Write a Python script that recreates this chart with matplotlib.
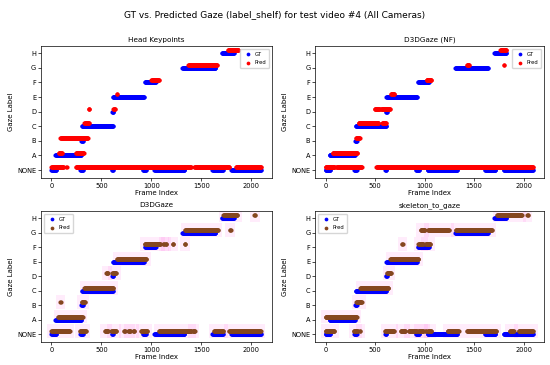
import numpy as np
import matplotlib
matplotlib.use("Agg")
import matplotlib.pyplot as plt
from matplotlib.patches import Rectangle

LABELS = ["NONE", "A", "B", "C", "D", "E", "F", "G", "H"]
X_TICKS = [0, 500, 1000, 1500, 2000]

# Runs of frames (start, end, label)
GT_SEGS = [
    (0, 50, "NONE"), (40, 300, "A"), (290, 315, "NONE"), (300, 315, "B"),
    (305, 615, "C"), (605, 615, "NONE"), (610, 620, "D"), (615, 925, "E"),
    (915, 945, "NONE"), (935, 1045, "F"), (1030, 1330, "NONE"),
    (1310, 1640, "G"), (1610, 1715, "NONE"), (1705, 1825, "H"),
    (1800, 2095, "NONE"),
]

HK_PRED = [
    (0, 120, "NONE"), (150, 155, "NONE"), (72, 105, "A"), (90, 365, "B"),
    (245, 325, "A"), (245, 1395, "NONE"), (330, 375, "C"), (372, 380, "D"),
    (620, 635, "D"), (655, 660, "E"), (1000, 1075, "F"), (1370, 1655, "G"),
    (1430, 1780, "NONE"), (1765, 1870, "H"), (1845, 2095, "NONE"),
]

NF_PRED = [
    (0, 90, "NONE"), (110, 365, "NONE"), (72, 323, "A"), (307, 343, "B"),
    (333, 536, "C"), (572, 611, "C"), (497, 546, "D"), (562, 650, "D"),
    (513, 2095, "NONE"), (660, 693, "E"), (1020, 1068, "F"),
    (1428, 1451, "G"), (1797, 1800, "G"), (1765, 1827, "H"),
]

D3D_PRED = [
    (0, 185, "NONE"), (285, 345, "NONE"), (535, 565, "NONE"), (600, 650, "NONE"),
    (725, 735, "NONE"), (770, 790, "NONE"), (820, 830, "NONE"),
    (895, 960, "NONE"), (1075, 1400, "NONE"), (1415, 1435, "NONE"),
    (1625, 1720, "NONE"), (1775, 2095, "NONE"),
    (66, 312, "A"), (88, 92, "B"), (302, 335, "B"), (328, 620, "C"),
    (548, 565, "D"), (610, 647, "D"), (657, 950, "E"), (933, 1090, "F"),
    (1120, 1126, "F"), (1143, 1149, "F"), (1212, 1218, "F"), (1334, 1340, "F"),
    (1337, 1665, "G"), (1785, 1791, "G"), (1720, 1860, "H"), (2030, 2036, "H"),
]

SKEL_PRED = [
    (0, 317, "A"), (0, 88, "NONE"), (284, 323, "NONE"), (348, 352, "NONE"),
    (600, 690, "NONE"), (758, 807, "NONE"), (840, 921, "NONE"),
    (938, 987, "NONE"), (1008, 1014, "NONE"), (1034, 1068, "NONE"),
    (1232, 1343, "NONE"), (1428, 1722, "NONE"), (1860, 1900, "NONE"),
    (1950, 2095, "NONE"), (310, 366, "B"), (350, 637, "C"), (620, 660, "D"),
    (653, 938, "E"), (772, 778, "F"), (938, 987, "F"), (1010, 1058, "F"),
    (960, 1003, "G"), (1036, 1248, "G"), (1314, 1680, "G"),
    (1732, 1983, "H"), (2036, 2042, "H"),
]

PANELS = [
    ("Head Keypoints", HK_PRED, "red", False),
    ("D3DGaze (NF)", NF_PRED, "red", False),
    ("D3DGaze", D3D_PRED, "#85471f", True),
    ("skeleton_to_gaze", SKEL_PRED, "#85471f", True),
]

PRED_OFFSET = 0.2
STEP = 3


def expand(segs):
    xs, ys = [], []
    for s, e, lab in segs:
        fr = np.arange(s, e + 1, STEP)
        xs.append(fr)
        ys.append(np.full(len(fr), LABELS.index(lab), dtype=float))
    return np.concatenate(xs), np.concatenate(ys)


fig = plt.figure(figsize=(5.5, 3.65), dpi=100)
fig.suptitle("GT vs. Predicted Gaze (label_shelf) for test video #4 (All Cameras)",
             fontsize=6.5, y=0.972)

positions = [
    [0.0745, 0.512, 0.42, 0.362],
    [0.573, 0.512, 0.416, 0.362],
    [0.0745, 0.063, 0.42, 0.359],
    [0.573, 0.063, 0.416, 0.359],
]

gx, gy = expand(GT_SEGS)
for (title, pred, pcol, band), pos in zip(PANELS, positions):
    ax = fig.add_axes(pos)
    px, py = expand(pred)
    if band:
        for s, e, lab in pred:
            yi = LABELS.index(lab) + PRED_OFFSET
            ax.add_patch(Rectangle((s - 45, yi - 0.47), (e - s) + 90, 0.94,
                                   facecolor="#ff55dd", alpha=0.11,
                                   edgecolor="none", zorder=0))
    ax.scatter(gx, gy, s=9, color="blue", linewidths=0, label="GT", zorder=2)
    ax.scatter(px, py + PRED_OFFSET, s=9, color=pcol, linewidths=0,
               label="Pred", zorder=3)
    ax.set_xlim(-105, 2205)
    ax.set_ylim(-0.55, 8.5)
    ax.set_xticks(X_TICKS)
    ax.set_yticks(range(len(LABELS)))
    ax.set_yticklabels(LABELS)
    ax.tick_params(labelsize=4.8, length=2, width=0.5, pad=1.5)
    for sp in ax.spines.values():
        sp.set_linewidth(0.5)
    ax.set_title(title, fontsize=5.2, pad=3)
    ax.set_xlabel("Frame Index", fontsize=5, labelpad=1)
    ax.set_ylabel("Gaze Label", fontsize=5, labelpad=2)
    loc = "upper left" if band else "upper right"
    ax.legend(loc=loc, fontsize=3.8, markerscale=0.9, handletextpad=0.2,
              borderpad=0.6, labelspacing=0.6, frameon=True)

fig.savefig("out.png", dpi=100)
